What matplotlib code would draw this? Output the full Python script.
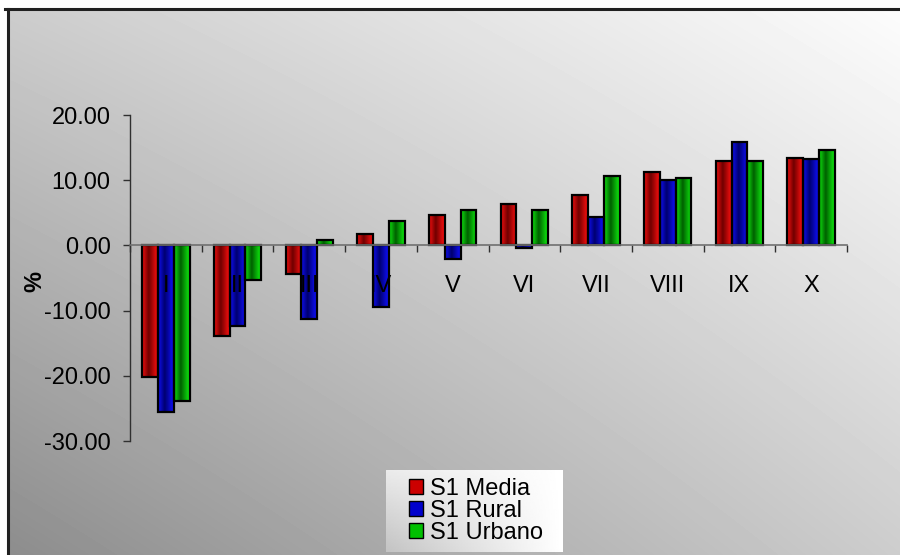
"""
Grouped bar chart of percentage change by decile (S1 Media / Rural / Urbano),
drawn on a shaded panel with cylinder-style shaded bars.
"""

import numpy as np
import matplotlib
matplotlib.use("Agg")  # no display available
import matplotlib.pyplot as plt
from matplotlib.colors import LinearSegmentedColormap
from matplotlib.patches import Rectangle

plt.rcParams["font.family"] = ["Liberation Sans", "DejaVu Sans"]

# ---------------------------------------------------------------------------
# Data
# ---------------------------------------------------------------------------
categories = ["I", "II", "III", "IV", "V", "VI", "VII", "VIII", "IX", "X"]
series_names = ["S1 Media", "S1 Rural", "S1 Urbano"]
media = [-20.2, -13.9, -4.4, 1.8, 4.6, 6.4, 7.8, 11.2, 12.9, 13.45]
rural = [-25.5, -12.3, -11.35, -9.4, -2.15, -0.45, 4.3, 10.0, 15.8, 13.2]
urbano = [-23.8, -5.3, 0.8, 3.7, 5.5, 5.5, 10.6, 10.3, 12.9, 14.6]
y_ticks = [-30, -20, -10, 0, 10, 20]

# bright edge / dark centre colours for the shaded bars
bar_shades = [
    ("#ff1010", "#700000"),
    ("#1010ff", "#000070"),
    ("#10f010", "#006000"),
]
legend_colors = ["#cc0000", "#0000cc", "#00c000"]

W, H = 900, 555
FS = 17

fig = plt.figure(figsize=(W / 100, H / 100), dpi=100)

# ---------------------------------------------------------------------------
# Background panel: diagonal grey gradient inside a dark frame
# ---------------------------------------------------------------------------
bg_ax = fig.add_axes([0, 0, 1, 1], zorder=-10)
xx = np.linspace(0, 1, W)[None, :]
yy = np.linspace(0, 1, H)[:, None]
tl, tr, bl, br = 205, 253, 140, 205
shade = (tl * (1 - xx) * (1 - yy) + tr * xx * (1 - yy)
         + bl * (1 - xx) * yy + br * xx * yy) / 255.0
px = np.arange(W)[None, :] * np.ones((H, 1))
py = np.arange(H)[:, None] * np.ones((1, W))
shade = np.where((px < 8) | (py < 9), 1.0, shade)
bg_ax.imshow(shade, cmap="gray", vmin=0, vmax=1, aspect="auto",
             extent=[0, W, H, 0], interpolation="bilinear")
bg_ax.plot([8, 8], [9, H], color="#202020", lw=2.2)
bg_ax.plot([5, W], [9, 9], color="#202020", lw=2.2)
bg_ax.set_xlim(0, W)
bg_ax.set_ylim(H, 0)
bg_ax.axis("off")

# ---------------------------------------------------------------------------
# Bars
# ---------------------------------------------------------------------------
ax = fig.add_axes([130 / W, 1 - 441 / H, 717 / W, 326 / H])
ax.patch.set_alpha(0)

x = np.arange(len(categories))
width = 0.22
# 0 = bright edge, 1 = dark core a little left of centre
grad = np.interp(np.linspace(0, 1, 64), [0, 0.42, 1], [0.1, 1, 0])[None, :]

for i, (vals, (bright, dark)) in enumerate(zip([media, rural, urbano], bar_shades)):
    cmap = LinearSegmentedColormap.from_list(f"shade{i}", [bright, dark])
    bars = ax.bar(x + (i - 1) * width, vals, width, facecolor="none",
                  edgecolor="black", linewidth=1.6, zorder=2)
    for rect in bars:
        x0, y0 = rect.get_x(), rect.get_y()
        x1, y1 = x0 + rect.get_width(), y0 + rect.get_height()
        ax.imshow(grad, cmap=cmap, vmin=0, vmax=1, aspect="auto",
                  extent=[x0, x1, min(y0, y1), max(y0, y1)],
                  interpolation="bilinear", zorder=1)

ax.set_xlim(-0.5, len(categories) - 0.5)
ax.set_ylim(-30, 20)
ax.set_aspect("auto")

# ---------------------------------------------------------------------------
# Axes styling
# ---------------------------------------------------------------------------
for side in ("top", "right"):
    ax.spines[side].set_visible(False)
ax.spines["left"].set_color("#303030")
ax.spines["left"].set_linewidth(1.0)
ax.spines["bottom"].set_position(("data", 0))
ax.spines["bottom"].set_color("#707070")
ax.spines["bottom"].set_linewidth(1.2)

ax.set_yticks(y_ticks)
ax.set_yticklabels([f"{v:.2f}" for v in y_ticks], fontsize=FS)
ax.tick_params(axis="y", direction="out", length=5, width=1.0,
               color="#303030", pad=9)

ax.set_xticks(np.arange(len(categories) + 1) - 0.5, minor=True)
ax.set_xticks(x)
ax.set_xticklabels(categories, fontsize=FS)
ax.tick_params(axis="x", which="major", length=0, pad=21)
ax.tick_params(axis="x", which="minor", direction="out", length=5,
               width=1.0, color="#303030")

ax.set_ylabel("%", fontsize=FS, fontweight="bold")
ax.yaxis.set_label_coords(-0.117, 0.49)

# ---------------------------------------------------------------------------
# Legend with its own light gradient box
# ---------------------------------------------------------------------------
lg_ax = fig.add_axes([386 / W, 1 - 552 / H, 177 / W, 82 / H], zorder=5)
lx = np.linspace(0, 1, 120)[None, :]
ly = np.linspace(0, 1, 60)[:, None]
lg_shade = (235 + 20 * lx - 40 * ly * (1 - lx)) / 255.0
lg_ax.imshow(np.clip(lg_shade, 0, 1), cmap="gray", vmin=0, vmax=1,
             aspect="auto", extent=[0, 1, 0, 1])
lg_ax.axis("off")

handles = [Rectangle((0, 0), 1, 1, facecolor=c, edgecolor="black", lw=1.0)
           for c in legend_colors]
fig.legend(handles, series_names, loc="center",
           bbox_to_anchor=(476 / W, 1 - 511 / H), frameon=False,
           fontsize=FS, handlelength=0.6, handleheight=0.6,
           handletextpad=0.3, labelspacing=0.0, borderpad=0.2
           ).set_zorder(6)

fig.savefig("out.png", dpi=100)
plt.close(fig)
